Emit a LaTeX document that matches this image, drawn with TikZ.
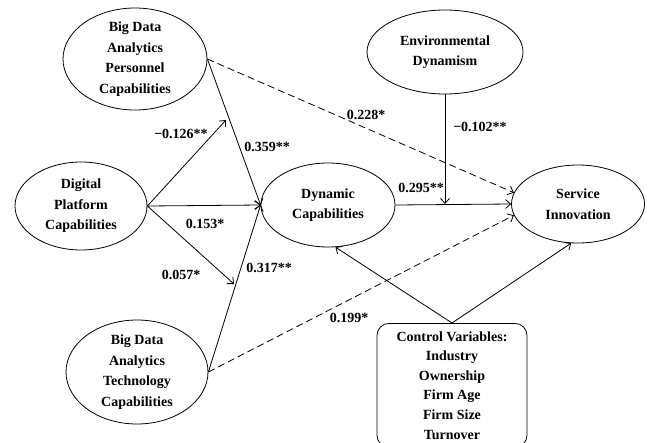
\documentclass[tikz,border=0pt]{standalone}
\usepackage{fontspec}
\setmainfont{Liberation Serif}
\usetikzlibrary{shapes.geometric,arrows.meta}

\begin{document}
\begin{tikzpicture}[x=1pt,y=-1pt,line width=0.8pt,
		font=\fontsize{14}{20.5}\selectfont\bfseries,
		>={Straight Barb[length=5pt,width=9pt]},
		latent/.style={draw,ellipse,align=center,inner xsep=0pt,inner ysep=-8pt},
		ctrlbox/.style={draw,rounded corners=12pt,align=center,minimum width=150pt,inner ysep=8pt,
			font=\fontsize{14}{19.6}\selectfont\bfseries},
		coef/.style={inner sep=0pt},
		direct/.style={dash pattern=on 7pt off 4pt}]
		\useasboundingbox (0,0) rectangle (650,442);
		% constructs
		\node[latent,minimum width=144pt,minimum height=102pt] (bdap) at (135,59) {Big Data\\Analytics\\Personnel\\Capabilities};
		\node[latent,minimum width=132pt,minimum height=88pt] (dp) at (81,206) {Digital\\Platform\\Capabilities};
		\node[latent,minimum width=142pt,minimum height=104pt] (bdat) at (137,372) {Big Data\\Analytics\\Technology\\Capabilities};
		\node[latent,minimum width=134pt,minimum height=84pt] (dc) at (328,205) {Dynamic\\Capabilities};
		\node[latent,minimum width=133pt,minimum height=78pt] (si) at (578,204) {Service\\Innovation};
		\node[latent,minimum width=156pt,minimum height=84pt] (ed) at (445,52) {Environmental\\Dynamism};
		\node[ctrlbox,anchor=north] (ctrl) at (452,323) {Control Variables:\\Industry\\Ownership\\Firm Age\\Firm Size\\Turnover};
		% moderation points
		\coordinate (m1) at (226,120);
		\coordinate (m2) at (234,284);
		\coordinate (m3) at (445,204);
		% paths
		\path[->] (bdap.east) edge (dc.west);
		\path[->] (bdat.east) edge (dc.west);
		\path[->] (dp.east) edge (dc.west);
		\path[->] (dp.east) edge (m1);
		\path[->] (dp.east) edge (m2);
		\path[->] (dc.east) edge (si.west);
		\path[->] (ed.south) edge (m3);
		\path[->,direct] (bdap.east) edge (si.170);
		\path[->,direct] (bdat.east) edge (si.190);
		\path[->] (ctrl.north) edge (dc.-80);
		\path[->] (ctrl.north) edge (si.-100);
		%\path[->] (ctrl.north) edge (ed);
		% coefficients
		\node[coef] (c359) at (267,147) {0.359**};
		\node[coef] (c126) at (181,134) {−0.126**};
		\node[coef] (c153) at (205,224) {0.153*};
		\node[coef] (c057) at (181,275) {0.057*};
		\node[coef] (c317) at (269,268) {0.317**};
		\node[coef] (c228) at (366,115) {0.228*};
		\node[coef] (c199) at (349,318) {0.199*};
		\node[coef] (c102) at (480,127) {−0.102**};
		\node[coef] (c295) at (421,188) {0.295**};
	\end{tikzpicture}
\end{document}
